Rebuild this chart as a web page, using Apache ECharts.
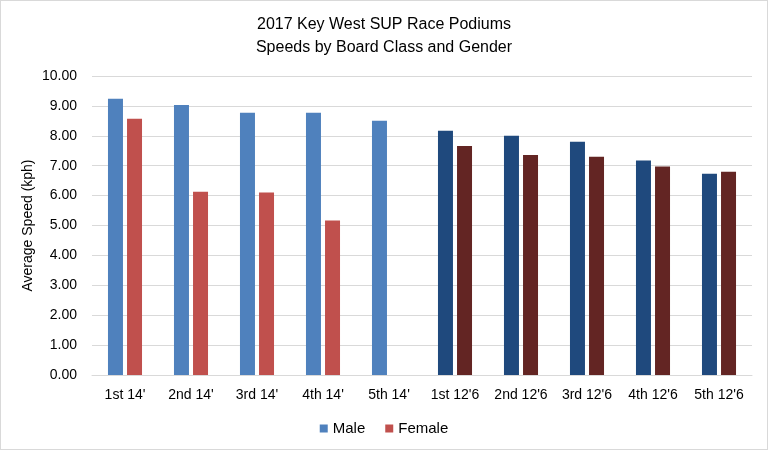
<!DOCTYPE html>
<html>
<head>
<meta charset="utf-8">
<script src="https://cdn.jsdelivr.net/npm/echarts@6/dist/echarts.min.js"></script>
<style>
html,body{margin:0;padding:0;background:#fff;}
#chart{width:768px;height:450px;box-sizing:border-box;border:1px solid #d9d9d9;}
</style>
</head>
<body>
<div id="chart"></div>
<script>
const categories = ["1st 14'", "2nd 14'", "3rd 14'", "4th 14'", "5th 14'", "1st 12'6", "2nd 12'6", "3rd 12'6", "4th 12'6", "5th 12'6"];
const maleSpeeds = [9.24, 9.03, 8.77, 8.77, 8.50, 8.17, 8.00, 7.80, 7.17, 6.73];
const femaleSpeeds = [8.57, 6.13, 6.10, 5.17, null, 7.66, 7.36, 7.30, 6.97, 6.80];
const yTicks = [0, 1, 2, 3, 4, 5, 6, 7, 8, 9, 10];

const FONT = '"Liberation Sans", Arial, sans-serif';
const maleLight = '#4F81BD', maleDark = '#1F497D';
const femaleLight = '#C0504D', femaleDark = '#632523';

const chart = echarts.init(document.getElementById('chart'), null, {renderer: 'canvas'});
chart.setOption({
  animation: false,
  backgroundColor: '#fff',
  title: {
    text: '2017 Key West SUP Race Podiums\nSpeeds by Board Class and Gender',
    left: 'center',
    top: 7,
    textStyle: {fontFamily: FONT, fontSize: 16, fontWeight: 'normal', color: '#000', lineHeight: 23}
  },
  legend: {
    bottom: 8,
    left: 'center',
    itemWidth: 8,
    itemHeight: 8,
    itemGap: 20,
    icon: 'rect',
    textStyle: {fontFamily: FONT, fontSize: 15, color: '#000'},
    data: [
      {name: 'Male', itemStyle: {color: maleLight}},
      {name: 'Female', itemStyle: {color: femaleLight}}
    ]
  },
  grid: {left: 91, right: 15, top: 75, bottom: 74, containLabel: false},
  xAxis: {
    type: 'category',
    data: categories,
    axisLine: {show: true, lineStyle: {color: '#d9d9d9'}},
    axisTick: {show: false},
    axisLabel: {fontFamily: FONT, fontSize: 14, color: '#000', margin: 13, interval: 0}
  },
  yAxis: {
    type: 'value',
    min: yTicks[0],
    max: yTicks[yTicks.length - 1],
    interval: 1,
    name: 'Average Speed (kph)',
    nameLocation: 'middle',
    nameGap: 57,
    nameMoveOverlap: false,
    nameTextStyle: {fontFamily: FONT, fontSize: 14, color: '#000'},
    axisLine: {show: false},
    axisTick: {show: false},
    splitLine: {lineStyle: {color: '#d9d9d9'}},
    axisLabel: {fontFamily: FONT, fontSize: 14, color: '#000', margin: 15, formatter: v => v.toFixed(2)}
  },
  series: [
    {
      name: 'Male',
      type: 'bar',
      data: maleSpeeds,
      barWidth: 15,
      barGap: '27%',
      itemStyle: {color: p => p.dataIndex >= 5 ? maleDark : maleLight}
    },
    {
      name: 'Female',
      type: 'bar',
      data: femaleSpeeds,
      barWidth: 15,
      itemStyle: {color: p => p.dataIndex >= 5 ? femaleDark : femaleLight}
    }
  ]
});
</script>
</body>
</html>
